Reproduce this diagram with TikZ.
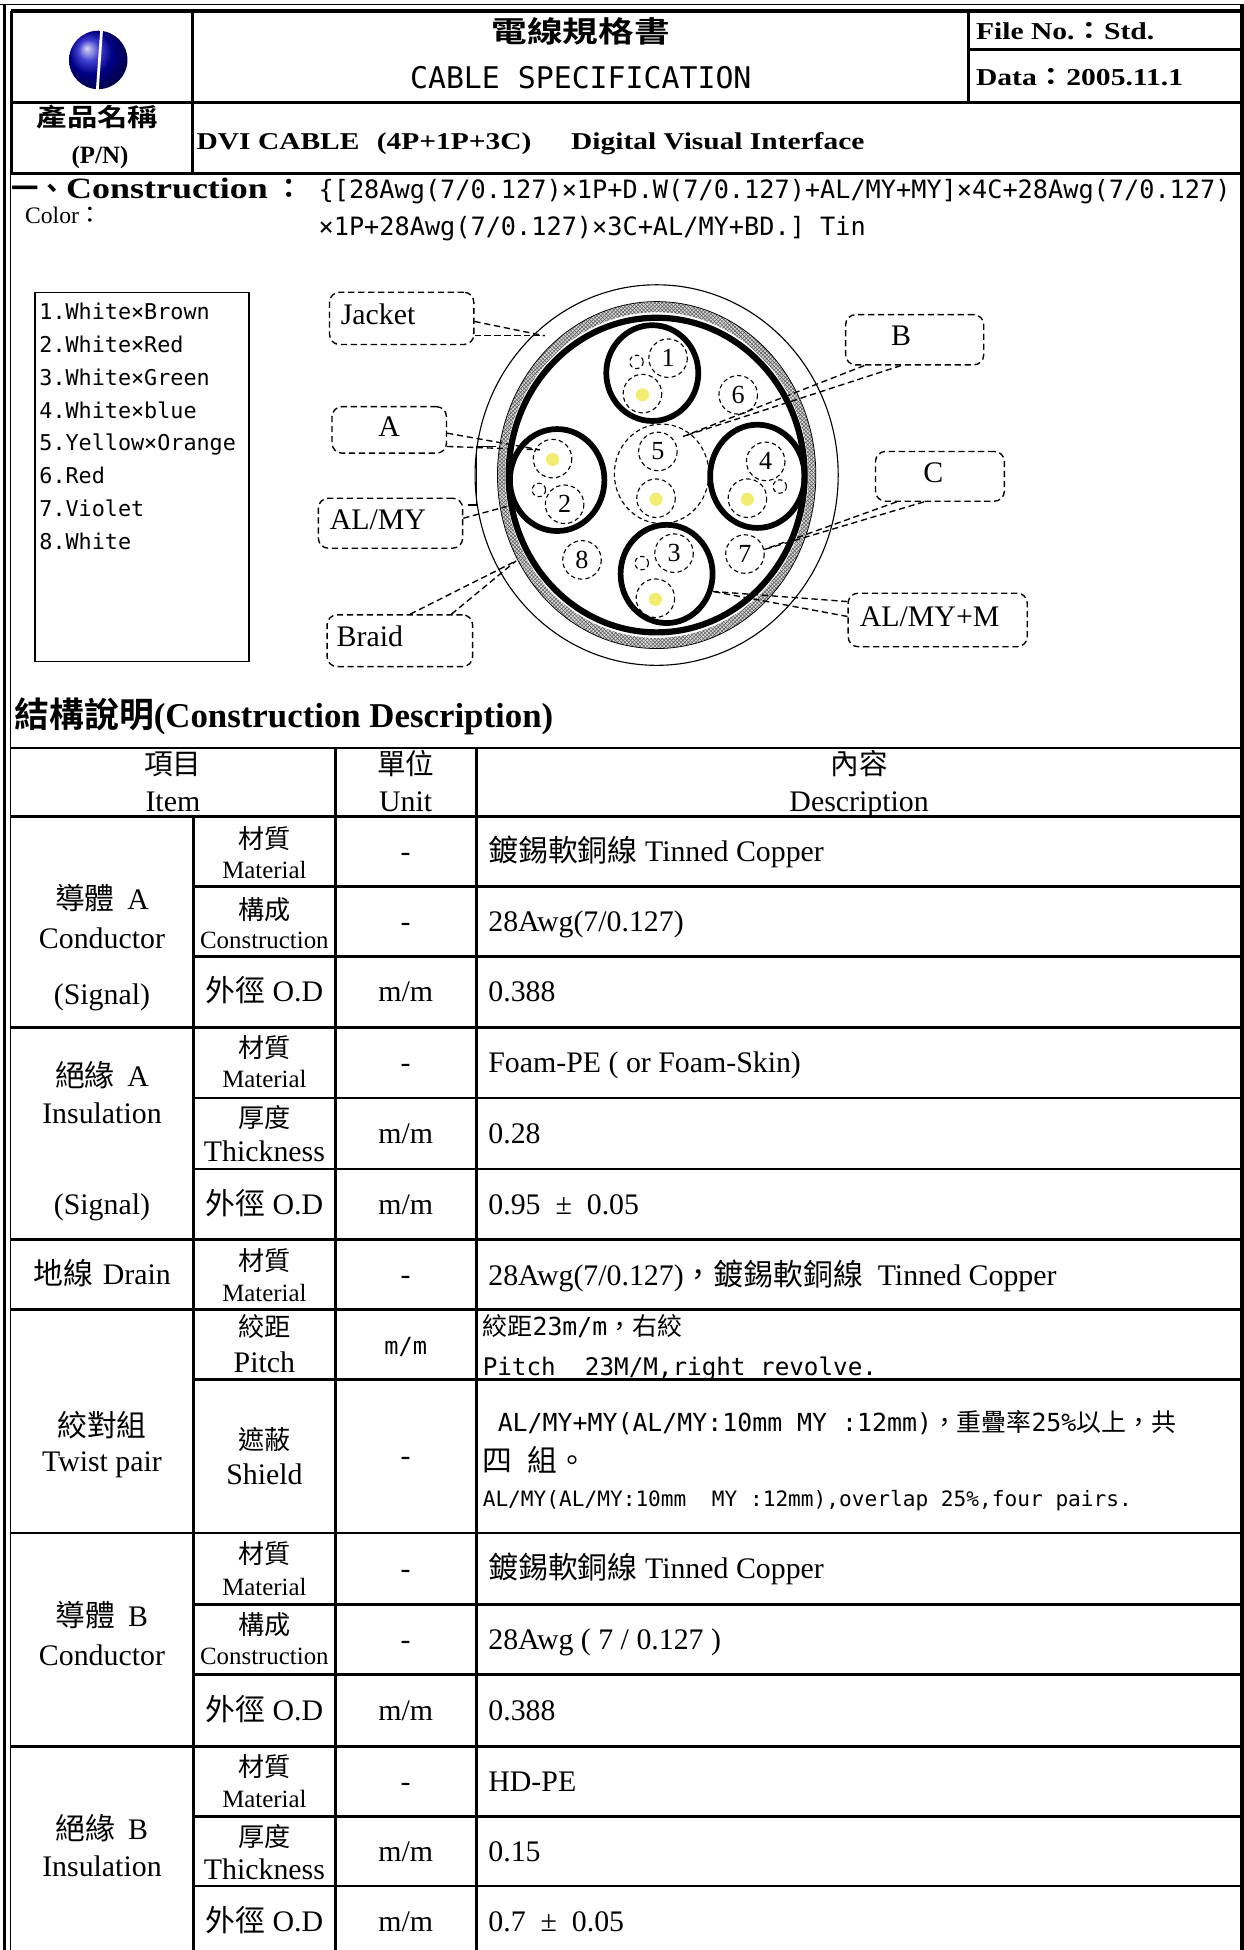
\documentclass[tikz,border=0pt]{standalone}
\usepackage{fontspec}
\setmainfont{Liberation Serif}
\newfontfamily\rmwide{Liberation Serif}[FakeStretch=1.22]
\newfontfamily\zhfont{Noto Sans CJK TC}[BoldFont={Noto Sans CJK TC Bold}]
\newfontfamily\zhwide{Noto Sans CJK TC}[BoldFont={Noto Sans CJK TC Bold},FakeStretch=1.22]
\newfontfamily\monofont{DejaVu Sans Mono}
\usetikzlibrary{patterns}
\newcommand{\zh}[1]{{\zhfont #1}}
\newcommand{\fsz}[1]{\fontsize{#1}{#1}\selectfont}

\begin{document}
\begin{tikzpicture}[x=1pt,y=-1pt,
  tline/.style={line width=2.2pt},
  tagbox/.style={draw, dash pattern=on 5pt off 3pt, rounded corners=8pt, line width=1.1pt, inner sep=0pt, text height=17pt, text depth=7pt, font=\fsz{24pt}},
  leader/.style={dash pattern=on 5pt off 3pt, line width=1.1pt},
  wire/.style={dash pattern=on 3.5pt off 2.5pt, line width=0.9pt},
  pairline/.style={line width=4.6pt},
  dot/.style={fill={rgb,255:red,242;green,236;blue,112}},
  num/.style={inner sep=0pt, font=\fsz{21pt}},
  legitem/.style={anchor=base west, inner sep=0pt, font=\monofont\fsz{17.5pt}},
  cell/.style={inner sep=0pt, text height=16pt, text depth=0pt, font=\fsz{24pt}},
  subzh/.style={inner sep=0pt, text height=15pt, text depth=0pt, font=\zhfont\fsz{21pt}},
  subrm/.style={inner sep=0pt, text height=13.5pt, text depth=0pt, font=\fsz{20pt}},
  desc/.style={cell, anchor=west},
  mdesc/.style={inner sep=0pt, text height=14.5pt, text depth=0pt, anchor=west, font=\monofont\fsz{20pt}}]
\useasboundingbox (0,0) rectangle (1000,1568);

\draw[line width=1.2pt] (0,3.5) -- (1000,3.5);
\draw[line width=2.6pt] (3.5,3.5) -- (3.5,1568);
\draw[line width=1.2pt] (8.5,9) -- (8.5,1568);
\draw[line width=2.8pt] (8.5,9) -- (998.5,9);
\draw[line width=2.8pt] (998.5,3.5) -- (998.5,1568);
\draw[tline] (9.5,9) -- (9.5,139.3);
\draw[tline] (8.5,82.5) -- (998.5,82.5);
\draw[tline] (8.5,139.3) -- (998.5,139.3);
\draw[tline] (155,9) -- (155,139.3);
\draw[tline] (779,9) -- (779,82.5);
\draw[tline] (779,39.6) -- (998.5,39.6);

\shade[ball color=blue!75!black] (79,48.2) circle (23.5);
\draw[white, line width=2.2pt] (81.7,24) -- (78.2,73);
\node[font=\zhwide\bfseries\fsz{23.5pt}] (titlezh) at (467,25.5) {電線規格書};
\node[font=\monofont\fsz{24pt}] (titleen) at (467,62.3) {CABLE SPECIFICATION};
\node[anchor=west, inner sep=0pt, text height=13pt, text depth=0pt, font=\rmwide\bfseries\fsz{19.5pt}] (fileno) at (784.6,25.5) {File No.{\zhwide\bfseries：}Std.};
\node[anchor=west, inner sep=0pt, text height=13pt, text depth=0pt, font=\rmwide\bfseries\fsz{19.5pt}] (dataday) at (784.6,62.3) {Data{\zhwide\bfseries：}2005.11.1};
\node[font=\zhwide\bfseries\fsz{20pt}] (pnzh) at (78.4,94.5) {產品名稱};
\node[font=\bfseries\fsz{20pt}] (pnen) at (80.4,126.6) {(P/N)};
\node[anchor=west, inner sep=0pt, text height=13pt, text depth=0pt, font=\rmwide\bfseries\fsz{19.4pt}] (pname) at (158,113.8) {DVI CABLE\hspace{14pt}(4P+1P+3C)\hspace{32pt}Digital Visual Interface};

\node[anchor=base west, inner sep=0pt] (constr) at (9,160) {{\zhfont\bfseries\fsz{22pt}一、}{\rmwide\bfseries\fsz{23.7pt}Construction}\hspace{6pt}{\zhfont\bfseries\fsz{22pt}：}};
\node[anchor=base west, inner sep=0pt, font=\fsz{19pt}] (color) at (20,180) {Color\zh{：}};
\node[anchor=base west, inner sep=0pt, font=\monofont\fsz{20.3pt}] (spec1) at (256,160) {\{[28Awg(7/0.127)×1P+D.W(7/0.127)+AL/MY+MY]×4C+28Awg(7/0.127)};
\node[anchor=base west, inner sep=0pt, font=\monofont\fsz{20.3pt}] (spec2) at (256,189) {×1P+28Awg(7/0.127)×3C+AL/MY+BD.] Tin};

\draw[line width=1.2pt] (28,235.3) rectangle (200.4,532);
\foreach \t [count=\i] in {1.White×Brown,2.White×Red,3.White×Green,4.White×blue,5.Yellow×Orange,6.Red,7.Violet,8.White}
  \node[legitem] (leg\i) at (31.5,{257+26.4*(\i-1)}) {\t};

\coordinate (cab) at (528,382);
\draw[line width=0.9pt] (cab) ellipse [x radius=146, y radius=153];
\fill[gray!30, even odd rule] (cab) ellipse [x radius=128, y radius=139.5] (cab) ellipse [x radius=122, y radius=131];
\fill[pattern=crosshatch, pattern color=gray!70!black, even odd rule] (cab) ellipse [x radius=128, y radius=139.5] (cab) ellipse [x radius=122, y radius=131];
\draw[line width=0.6pt] (cab) ellipse [x radius=128, y radius=139.5];
\draw[line width=5pt] (cab) ellipse [x radius=119, y radius=126.5];
\draw[pairline] (524.5,300) ellipse [x radius=37, y radius=38.5];
\draw[pairline] (448,386) ellipse [x radius=38, y radius=41];
\draw[pairline] (609,383) ellipse [x radius=38, y radius=41.5];
\draw[pairline] (536,461.5) ellipse [x radius=37, y radius=39.5];
\draw[wire] (532,381) ellipse [x radius=38, y radius=40];
\foreach \x/\y in {537.2/288, 516.6/316.5, 444.3/368.8, 454/405.5, 615.7/371, 601/400.6, 542/444.8, 527/481, 529/363, 527.5/400.6, 593.6/317.5, 599/445.5, 468/450.2}
  \draw[wire] (\x,\y) circle (15.5);
\foreach \x/\y in {511.8/291, 433.3/394, 627/391.2, 516/452.8}
  \draw[wire] (\x,\y) circle (5.4);
\foreach \x/\y in {516.6/317.5, 444.3/369.5, 601/401.5, 527/482, 527.5/401.5}
  \fill[dot] (\x,\y) circle (5.3);
\node[num] (n1) at (537.2,288) {1};
\node[num] (n2) at (454,405.5) {2};
\node[num] (n3) at (542,444.8) {3};
\node[num] (n4) at (615.7,371) {4};
\node[num] (n5) at (529,363) {5};
\node[num] (n6) at (593.6,317.5) {6};
\node[num] (n7) at (599,445.5) {7};
\node[num] (n8) at (468,450.2) {8};

\node[tagbox, minimum width=116pt, minimum height=42pt, text width=98pt, align=left] (jacket) at (323,256) {Jacket};
\node[tagbox, minimum width=92pt, minimum height=37.4pt] (tagA) at (313,345.7) {A};
\node[tagbox, minimum width=116pt, minimum height=40.2pt, text width=97.6pt, align=left] (almy) at (314,420.7) {AL/MY};
\node[tagbox, minimum width=117pt, minimum height=41.6pt, text width=101.6pt, align=left] (braid) at (321.5,515.2) {Braid};
\node[tagbox, minimum width=111pt, minimum height=40.4pt, text width=38pt, align=left] (tagB) at (735.5,273.2) {B};
\node[tagbox, minimum width=103.6pt, minimum height=40pt, text width=26.8pt, align=left] (tagC) at (755.8,383) {C};
\node[tagbox, minimum width=144pt, minimum height=43pt, text width=125.2pt, align=left] (almym) at (754,498.5) {AL/MY+M};
\coordinate (tipJ) at (438,270);
\coordinate (tipA) at (434,361.7);
\coordinate (tipAM) at (407.3,407.3);
\coordinate (tipBr) at (415,451);
\coordinate (tipB) at (549.3,351);
\coordinate (tipC) at (614,442);
\coordinate (tipM) at (573.3,475.6);
\draw[leader] ([yshift=-2.5pt]jacket.east) -- (tipJ);
\draw[leader] ([yshift=-14pt]jacket.east) -- (tipJ);
\draw[leader] ([yshift=-2.6pt]tagA.east) -- (tipA);
\draw[leader] ([yshift=-13.3pt]tagA.east) -- (tipA);
\draw[leader] ([yshift=4pt]almy.east) -- (tipAM);
\draw[line width=1.1pt] (399,359) -- (383,359) -- (383,406) -- (376,406);
\draw[leader] ([xshift=8.3pt]braid.north) -- (tipBr);
\draw[leader] ([xshift=41.5pt]braid.north) -- (tipBr);
\draw[leader] ([xshift=-40.5pt]tagB.south) -- (tipB);
\draw[leader] ([xshift=-11pt]tagB.south) -- (tipB);
\draw[leader] ([xshift=-34.8pt]tagC.south) -- (tipC);
\draw[leader] ([xshift=-12.8pt]tagC.south) -- (tipC);
\draw[leader] ([yshift=14.8pt]almym.west) -- (tipM);
\draw[leader] ([yshift=2.8pt]almym.west) -- (tipM);

\node[anchor=base west, inner sep=0pt] (sechead) at (11.5,585) {{\zhfont\bfseries\fsz{28pt}結構說明}{\bfseries\fsz{28pt}(Construction Description)}};

\foreach \y in {601.5,656.5,826,996.8,1053,1232.6,1404.1}
  \draw[tline] (8.5,\y) -- (998.5,\y);
\foreach \y in {712.8,769.1,883,940,1109.3,1290.2,1346.5,1460.4,1516.6}
  \draw[tline] (155.8,\y) -- (998.5,\y);
\draw[tline] (155.8,656.5) -- (155.8,1568);
\draw[tline] (269.5,601.5) -- (269.5,1568);
\draw[tline] (383,601.5) -- (383,1568);

\node[cell, font=\zhfont\fsz{23pt}] (hitemzh) at (139,615) {項目};
\node[cell] (hitem) at (139,644.5) {Item};
\node[cell, font=\zhfont\fsz{23pt}] (hunitzh) at (326.2,615) {單位};
\node[cell] (hunit) at (326.2,644.5) {Unit};
\node[cell, font=\zhfont\fsz{23pt}] (hdesczh) at (690.8,615) {內容};
\node[cell] (hdesc) at (690.8,644.5) {Description};

\node[cell] (condA) at (82,723.5) {\zh{導體}\hspace{10pt}A};
\node[cell] (condAen) at (82,754.3) {Conductor};
\node[cell] (condAsig) at (82,800) {(Signal)};
\node[cell] (insA) at (82,866) {\zh{絕緣}\hspace{10pt}A};
\node[cell] (insAen) at (82,895) {Insulation};
\node[cell] (insAsig) at (82,968.4) {(Signal)};
\node[cell] (drain) at (82,1025) {\zh{地線}\hspace{8pt}Drain};
\node[cell, font=\zhfont\fsz{24pt}] (twist) at (82,1147) {絞對組};
\node[cell] (twisten) at (82,1175) {Twist pair};
\node[cell] (condB) at (82,1299.6) {\zh{導體}\hspace{10pt}B};
\node[cell] (condBen) at (82,1331.2) {Conductor};
\node[cell] (insB) at (82,1471) {\zh{絕緣}\hspace{10pt}B};
\node[cell] (insBen) at (82,1500.5) {Insulation};

\node[subzh] (m1z) at (212.6,675) {材質};
\node[subrm] (m1e) at (212.6,699.4) {Material};
\node[subzh] (c1z) at (212.6,731.5) {構成};
\node[subrm] (c1e) at (212.6,755.6) {Construction};
\node[cell] (o1) at (212.6,797.5) {\zh{外徑} O.D};
\node[subzh] (m2z) at (212.6,843) {材質};
\node[subrm] (m2e) at (212.6,868) {Material};
\node[subzh] (t2z) at (212.6,899) {厚度};
\node[cell] (t2e) at (212.6,926) {Thickness};
\node[cell] (o2) at (212.6,968.4) {\zh{外徑} O.D};
\node[subzh] (m3z) at (212.6,1014) {材質};
\node[subrm] (m3e) at (212.6,1039.5) {Material};
\node[subzh] (p4z) at (212.6,1067) {絞距};
\node[cell] (p4e) at (212.6,1096) {Pitch};
\node[subzh] (s4z) at (212.6,1158) {遮蔽};
\node[cell] (s4e) at (212.6,1186) {Shield};
\node[subzh] (m5z) at (212.6,1249.6) {材質};
\node[subrm] (m5e) at (212.6,1276) {Material};
\node[subzh] (c5z) at (212.6,1307) {構成};
\node[subrm] (c5e) at (212.6,1332) {Construction};
\node[cell] (o5) at (212.6,1375.3) {\zh{外徑} O.D};
\node[subzh] (m6z) at (212.6,1421) {材質};
\node[subrm] (m6e) at (212.6,1447) {Material};
\node[subzh] (t6z) at (212.6,1477) {厚度};
\node[cell] (t6e) at (212.6,1503) {Thickness};
\node[cell] (o6) at (212.6,1545) {\zh{外徑} O.D};

\node[cell] (u1) at (326.2,684.6) {-};
\node[cell] (u2) at (326.2,741) {-};
\node[cell] (u3) at (326.2,797.5) {m/m};
\node[cell] (u4) at (326.2,854.5) {-};
\node[cell] (u5) at (326.2,911.5) {m/m};
\node[cell] (u6) at (326.2,968.4) {m/m};
\node[cell] (u7) at (326.2,1025) {-};
\node[cell, font=\monofont\fsz{19pt}] (u8) at (326.2,1081) {m/m};
\node[cell] (u9) at (326.2,1170) {-};
\node[cell] (u10) at (326.2,1261.4) {-};
\node[cell] (u11) at (326.2,1318.4) {-};
\node[cell] (u12) at (326.2,1375.3) {m/m};
\node[cell] (u13) at (326.2,1432.3) {-};
\node[cell] (u14) at (326.2,1488.5) {m/m};
\node[cell] (u15) at (326.2,1545) {m/m};

\node[desc] (d1) at (392.5,684.6) {\zh{鍍錫軟銅線} Tinned Copper};
\node[desc] (d2) at (392.5,741) {28Awg(7/0.127)};
\node[desc] (d3) at (392.5,797.5) {0.388};
\node[desc] (d4) at (392.5,854.5) {Foam-PE ( or Foam-Skin)};
\node[desc] (d5) at (392.5,911.5) {0.28};
\node[desc] (d6) at (392.5,968.4) {0.95 \ ± \ 0.05};
\node[desc] (d7) at (392.5,1026) {28Awg(7/0.127)\zh{，鍍錫軟銅線}\ \ Tinned Copper};
\node[mdesc] (d8a) at (388,1066.4) {\zh{絞距}23m/m\zh{，右絞}};
\node[mdesc, font=\monofont\fsz{19.5pt}] (d8b) at (388,1098.6) {Pitch\ \ 23M/M,right revolve.};
\node[mdesc] (d9a) at (388,1144.2) {\ AL/MY+MY(AL/MY:10mm MY :12mm)\zh{，重疊率}25\%\zh{以上，共}};
\node[mdesc, font=\zhfont\fsz{24pt}] (d9b) at (388,1176.3) {四\hspace{12pt}組。};
\node[mdesc, font=\monofont\fsz{17pt}] (d9c) at (388,1204.4) {AL/MY(AL/MY:10mm\ \ MY :12mm),overlap 25\%,four pairs.};
\node[desc] (d10) at (392.5,1261.4) {\zh{鍍錫軟銅線} Tinned Copper};
\node[desc] (d11) at (392.5,1318.4) {28Awg ( 7 / 0.127 )};
\node[desc] (d12) at (392.5,1375.3) {0.388};
\node[desc] (d13) at (392.5,1432.3) {HD-PE};
\node[desc] (d14) at (392.5,1488.5) {0.15};
\node[desc] (d15) at (392.5,1545) {0.7 \ ± \ 0.05};
\end{tikzpicture}
\end{document}
